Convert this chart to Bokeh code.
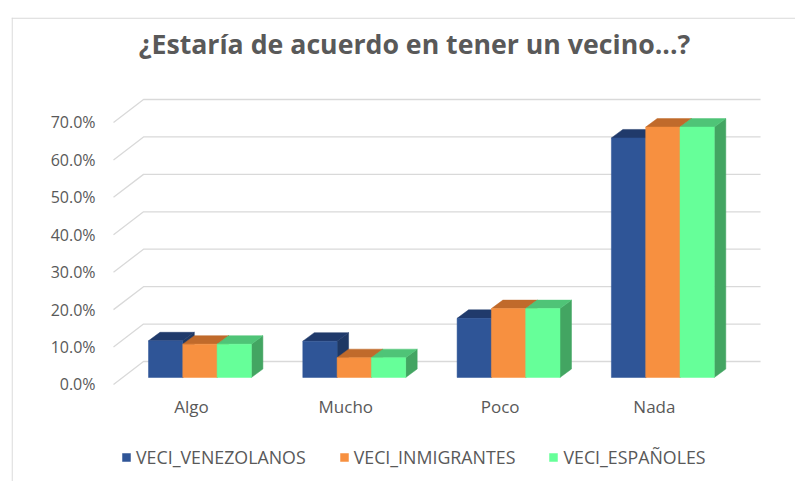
from bokeh.plotting import figure
from bokeh.models import (Range1d, FixedTicker, PrintfTickFormatter, Legend,
                          LegendItem, ColumnDataSource, Label, Span)
from bokeh.embed import file_html
from bokeh.resources import INLINE

# ---------------- data ----------------
categories = ["Algo", "Mucho", "Poco", "Nada"]
veci_venezolanos = [9.8, 9.7, 15.8, 64.0]
veci_inmigrantes = [8.9, 5.3, 18.4, 66.9]
veci_espanoles = [8.9, 5.3, 18.4, 66.9]
series_names = ["VECI_VENEZOLANOS", "VECI_INMIGRANTES", "VECI_ESPAÑOLES"]
y_ticks = [0, 10, 20, 30, 40, 50, 60, 70]
title_text = "¿Estaría de acuerdo en tener un vecino...?"

# ---------------- styles / geometry ----------------
front_colors = ["#2F5597", "#F79040", "#66FF99"]
top_colors = ["#203A6B", "#C06A2B", "#4FC477"]
side_colors = ["#1F3864", "#B5622A", "#43A562"]
text_color = "#595959"
grid_color = "#D9D9D9"
border_color = "#D9D9D9"
FONT = "Open Sans"

GROUP_OFFSET = -0.2787   # left edge of the group relative to the category label
BAR_W = 0.2223
BASE = 1.87              # bars stand slightly behind the front floor edge
DX = 0.0745              # 3D depth of a bar (x)
DY = 2.27                # 3D depth of a bar (y)
WALL_DY = 6.14           # back wall offset (y)
WALL_X0, WALL_X1, WALL_X2 = -0.5055, -0.311, 3.688
X0, X1 = -1.1666, 3.9145
Y0, Y1 = -25.92, 98.05
YAXIS_X = -0.5379        # where the value axis labels hang
TITLE_X, TITLE_Y = 1.4452, 91.1

p = figure(width=795, height=481, output_backend="svg", toolbar_location=None,
           title=None,
           x_range=Range1d(X0, X1), y_range=Range1d(Y0, Y1),
           min_border_left=11, min_border_right=0, min_border_top=17,
           min_border_bottom=0)
p.outline_line_color = None
p.xgrid.visible = False
p.ygrid.visible = False
p.background_fill_color = "white"
p.border_fill_color = "white"

# chart area border (left and top edges visible)
p.add_layout(Span(location=X0 + 0.004, dimension="height",
                  line_color=border_color, line_width=1.2))
p.add_layout(Span(location=Y1 - 0.16, dimension="width",
                  line_color=border_color, line_width=1.2))

# gridlines: floor-diagonal + back wall
gx = [[WALL_X0, WALL_X1, WALL_X2] for v in y_ticks]
gy = [[v, v + WALL_DY, v + WALL_DY] for v in y_ticks]
p.multi_line(xs=gx, ys=gy, line_color=grid_color, line_width=1.3)

series = [veci_venezolanos, veci_inmigrantes, veci_espanoles]
front_renderers = []
for s, vals in enumerate(series):
    lefts = [i + GROUP_OFFSET + s * BAR_W for i in range(len(categories))]
    rights = [l + BAR_W for l in lefts]
    tops = [BASE + v for v in vals]
    bottoms = [BASE] * len(vals)
    # side faces
    sx = [[r, r, r + DX, r + DX] for r in rights]
    sy = [[BASE, t, t + DY, BASE + DY] for t in tops]
    p.patches(xs=sx, ys=sy, fill_color=side_colors[s], line_color=side_colors[s],
              line_width=0.5)
    # top faces
    tx = [[l, r, r + DX, l + DX] for l, r in zip(lefts, rights)]
    ty = [[t, t, t + DY, t + DY] for t in tops]
    p.patches(xs=tx, ys=ty, fill_color=top_colors[s], line_color=top_colors[s],
              line_width=0.5)
    src = ColumnDataSource(dict(left=lefts, right=rights, top=tops, bottom=bottoms))
    r = p.quad(left="left", right="right", top="top", bottom="bottom", source=src,
               fill_color=front_colors[s], line_color=front_colors[s], line_width=0.5)
    front_renderers.append(r)

# y axis
p.yaxis.fixed_location = YAXIS_X
p.yaxis.ticker = FixedTicker(ticks=y_ticks)
p.yaxis.formatter = PrintfTickFormatter(format="%.1f%%")
p.yaxis.axis_line_color = None
p.yaxis.major_tick_line_color = None
p.yaxis.minor_tick_line_color = None
p.yaxis.major_tick_out = 0
p.yaxis.major_tick_in = 0
p.yaxis.major_label_standoff = 13
p.yaxis.major_label_text_font = FONT
p.yaxis.major_label_text_font_size = "16px"
p.yaxis.major_label_text_color = text_color

# x axis (drawn at the front floor edge, value 0)
p.xaxis.fixed_location = 0
p.xaxis.ticker = FixedTicker(ticks=list(range(len(categories))))
p.xaxis.major_label_overrides = {i: c for i, c in enumerate(categories)}
p.xaxis.axis_line_color = None
p.xaxis.major_tick_line_color = None
p.xaxis.minor_tick_line_color = None
p.xaxis.major_tick_out = 0
p.xaxis.major_tick_in = 0
p.xaxis.major_label_standoff = 11
p.xaxis.major_label_text_font = FONT
p.xaxis.major_label_text_font_size = "17px"
p.xaxis.major_label_text_color = text_color

# title
p.add_layout(Label(x=TITLE_X, y=TITLE_Y, text=title_text, text_align="center",
                   text_baseline="middle", text_font=FONT, text_font_size="26.7px",
                   text_font_style="bold", text_color=text_color))

# legend (inside the bottom part of the frame, screen pixels from its bottom-left)
legend = Legend(items=[LegendItem(label=n, renderers=[r])
                       for n, r in zip(series_names, front_renderers)],
                orientation="horizontal", location=(110, 12),
                margin=0, padding=0, spacing=33, label_standoff=5,
                glyph_width=10, glyph_height=10, label_height=24,
                border_line_color=None, background_fill_alpha=0,
                label_text_font=FONT, label_text_font_size="17.8px",
                label_text_color=text_color)
p.add_layout(legend, "center")

open("out.html", "w").write(file_html(p, INLINE))
